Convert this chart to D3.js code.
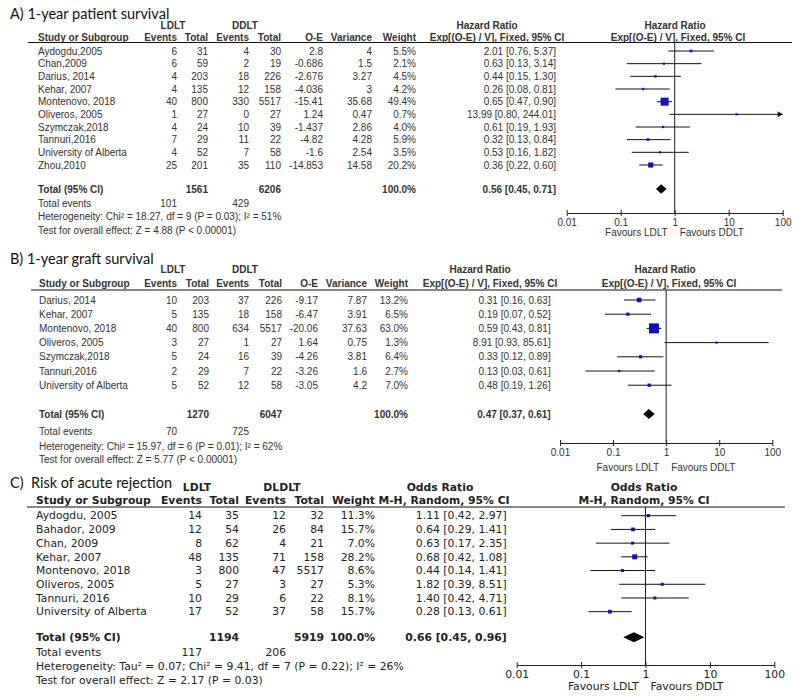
<!DOCTYPE html>
<html>
<head>
<meta charset="utf-8">
<script src="https://cdn.jsdelivr.net/npm/d3@7"></script>
<style>
  body { margin: 0; background: #fff; }
</style>
</head>
<body>
<script>
// ---- A) 1-year patient survival ----
var studiesA = ["Aydogdu,2005", "Chan,2009", "Darius, 2014", "Kehar, 2007", "Montenovo, 2018", "Oliveros, 2005", "Szymczak,2018", "Tannuri,2016", "University of Alberta", "Zhou,2010"];
var ldltEventsA = [6, 6, 4, 4, 40, 1, 4, 7, 4, 25];
var ldltTotalA = [31, 59, 203, 135, 800, 27, 24, 29, 52, 201];
var ddltEventsA = [4, 2, 18, 12, 330, 0, 10, 11, 7, 35];
var ddltTotalA = [30, 19, 226, 158, 5517, 27, 39, 22, 58, 110];
var oeA = ["2.8", "-0.686", "-2.676", "-4.036", "-15.41", "1.24", "-1.437", "-4.82", "-1.6", "-14.853"];
var varianceA = ["4", "1.5", "3.27", "3", "35.68", "0.47", "2.86", "4.28", "2.54", "14.58"];
var weightA = [5.5, 2.1, 4.5, 4.2, 49.4, 0.7, 4.0, 5.9, 3.5, 20.2];
var hrA = [2.01, 0.63, 0.44, 0.26, 0.65, 13.99, 0.61, 0.32, 0.53, 0.36];
var lowA = [0.76, 0.13, 0.15, 0.08, 0.47, 0.80, 0.19, 0.13, 0.16, 0.22];
var highA = [5.37, 3.14, 1.30, 0.81, 0.90, 244.01, 1.93, 0.84, 1.82, 0.60];
var totalA = {ldlt: 1561, ddlt: 6206, evL: 101, evD: 429, est: 0.56, lo: 0.45, hi: 0.71};

// ---- B) 1-year graft survival ----
var studiesB = ["Darius, 2014", "Kehar, 2007", "Montenovo, 2018", "Oliveros, 2005", "Szymczak,2018", "Tannuri,2016", "University of Alberta"];
var ldltEventsB = [10, 5, 40, 3, 5, 2, 5];
var ldltTotalB = [203, 135, 800, 27, 24, 29, 52];
var ddltEventsB = [37, 18, 634, 1, 16, 7, 12];
var ddltTotalB = [226, 158, 5517, 27, 39, 22, 58];
var oeB = ["-9.17", "-6.47", "-20.06", "1.64", "-4.26", "-3.26", "-3.05"];
var varianceB = ["7.87", "3.91", "37.63", "0.75", "3.81", "1.6", "4.2"];
var weightB = [13.2, 6.5, 63.0, 1.3, 6.4, 2.7, 7.0];
var hrB = [0.31, 0.19, 0.59, 8.91, 0.33, 0.13, 0.48];
var lowB = [0.16, 0.07, 0.43, 0.93, 0.12, 0.03, 0.19];
var highB = [0.63, 0.52, 0.81, 85.61, 0.89, 0.61, 1.26];
var totalB = {ldlt: 1270, ddlt: 6047, evL: 70, evD: 725, est: 0.47, lo: 0.37, hi: 0.61};

// ---- C) Risk of acute rejection ----
var studiesC = ["Aydogdu, 2005", "Bahador, 2009", "Chan, 2009", "Kehar, 2007", "Montenovo, 2018", "Oliveros, 2005", "Tannuri, 2016", "University of Alberta"];
var ldltEventsC = [14, 12, 8, 48, 3, 5, 10, 17];
var ldltTotalC = [35, 54, 62, 135, 800, 27, 29, 52];
var dldltEventsC = [12, 26, 4, 71, 47, 3, 6, 37];
var dldltTotalC = [32, 84, 21, 158, 5517, 27, 22, 58];
var weightC = [11.3, 15.7, 7.0, 28.2, 8.6, 5.3, 8.1, 15.7];
var orC = [1.11, 0.64, 0.63, 0.68, 0.44, 1.82, 1.40, 0.28];
var lowC = [0.42, 0.29, 0.17, 0.42, 0.14, 0.39, 0.42, 0.13];
var highC = [2.97, 1.41, 2.35, 1.08, 1.41, 8.51, 4.71, 0.61];
var totalC = {ldlt: 1194, ddlt: 5919, evL: 117, evD: 206, est: 0.66, lo: 0.45, hi: 0.96};

var axisTicks = [0.01, 0.1, 1, 10, 100];

var svg = d3.select("body").append("svg")
  .attr("width", 793)
  .attr("height", 699);

var pct = function(w) { return d3.format(".1f")(w) + "%"; };
var ci = function(e, l, h) { return e.toFixed(2) + " [" + l.toFixed(2) + ", " + h.toFixed(2) + "]"; };

function drawPanel(p) {
  var g = svg.append("g")
    .attr("font-family", p.font)
    .attr("font-size", p.fs)
    .attr("fill", p.color);

  // title
  svg.append("text")
    .attr("x", 10).attr("y", p.titleY).attr("dy", "0.35em")
    .attr("font-family", "Lato, 'Open Sans', sans-serif")
    .attr("font-size", p.titleFs)
    .attr("fill", "#111")
    .attr("xml:space", "preserve")
    .text(p.title);

  var txt = function(x, y, s, anchor, bold) {
    return g.append("text")
      .attr("x", x).attr("y", y).attr("dy", "0.35em")
      .attr("text-anchor", anchor || "start")
      .attr("font-weight", bold ? "bold" : null)
      .text(s);
  };

  var row = d3.scaleLinear().domain([0, p.names.length - 1]).range(p.rows);

  // group headers
  p.groups.forEach(function(d) { txt(d.x, p.groupY, d.t, "middle", true); });
  p.subHeads.forEach(function(d) { txt(d.x, p.headY, d.t, "middle", true); });
  txt(p.nameX, p.headY, "Study or Subgroup", "start", true);

  // names
  p.names.forEach(function(n, i) { txt(p.nameX, row(i), n); });

  // numeric columns
  p.cols.forEach(function(c) {
    if (c.head) txt(c.x, p.headY, c.head, "end", true);
    c.vals.forEach(function(v, i) { txt(c.x, row(i), v, "end"); });
    if (c.tot != null) txt(c.x, p.totalY, c.tot, "end", true);
    if (c.ev != null) txt(c.x, p.evY, c.ev, "end");
  });

  txt(p.nameX, p.totalY, "Total (95% CI)", "start", true);
  txt(p.nameX, p.evY, "Total events");
  txt(p.nameX, p.hetY, p.het);
  txt(p.nameX, p.testY, p.test);

  // header rule
  g.append("line")
    .attr("x1", p.lineX[0]).attr("x2", p.lineX[1])
    .attr("y1", p.lineY).attr("y2", p.lineY)
    .attr("stroke", "#111").attr("stroke-width", 1.2);

  // forest plot
  var x = d3.scaleLog().domain([0.01, 100]).range(p.xr);

  g.append("line")
    .attr("x1", x(1)).attr("x2", x(1))
    .attr("y1", p.lineY).attr("y2", p.axisY)
    .attr("stroke", "#222").attr("stroke-width", 1);

  var ax = g.append("g")
    .attr("transform", "translate(0," + p.axisY + ")")
    .call(d3.axisBottom(x).tickValues(axisTicks)
      .tickFormat(function(d) { return String(d); })
      .tickSize(3).tickSizeOuter(0).tickPadding(p.tickPad));
  ax.attr("font-family", p.font).attr("font-size", p.fs);
  ax.select(".domain").attr("stroke", "#222");
  ax.selectAll(".tick line").attr("y1", -3).attr("y2", 3).attr("stroke", "#222");
  ax.selectAll(".tick text").attr("fill", p.color);

  txt(x(1) - 7, p.favY, "Favours LDLT", "end");
  txt(x(1) + 5, p.favY, "Favours DDLT", "start");

  p.est.forEach(function(e, i) {
    var y = row(i);
    var hi = Math.min(p.hi[i], 100);
    g.append("line")
      .attr("x1", x(p.lo[i])).attr("x2", x(hi))
      .attr("y1", y).attr("y2", y)
      .attr("stroke", "#111").attr("stroke-width", 1);
    if (p.hi[i] > 100) {
      g.append("path")
        .attr("d", "M" + (x(100) - 5) + "," + (y - 3) + "L" + x(100) + "," + y + "L" + (x(100) - 5) + "," + (y + 3) + "Z")
        .attr("fill", "#111");
    }
    var s = Math.max(p.minSq, p.k * Math.sqrt(p.w[i]));
    g.append("rect")
      .attr("x", x(e) - s / 2).attr("y", y - s / 2)
      .attr("width", s).attr("height", s)
      .attr("fill", "#1010c0");
  });

  var t = p.total;
  g.append("path")
    .attr("d", "M" + x(t.lo) + "," + p.totalY + "L" + x(t.est) + "," + (p.totalY - p.dh) +
      "L" + x(t.hi) + "," + p.totalY + "L" + x(t.est) + "," + (p.totalY + p.dh) + "Z")
    .attr("fill", "#000");
}

var sansAB = "'Liberation Sans', Arial, sans-serif";
var sansC = "'DejaVu Sans', Verdana, sans-serif";

drawPanel({
  title: "A) 1-year patient survival", titleY: 14, titleFs: 14.5,
  font: sansAB, fs: 10, color: "#333",
  groupY: 25, headY: 37.5, lineY: 42.5, lineX: [28, 792],
  rows: [51, 165], totalY: 189, evY: 203, hetY: 216.7, testY: 230,
  nameX: 38, names: studiesA,
  groups: [{x: 173, t: "LDLT"}, {x: 245, t: "DDLT"}, {x: 487, t: "Hazard Ratio"}, {x: 675, t: "Hazard Ratio"}],
  subHeads: [{x: 497, t: "Exp[(O-E) / V], Fixed, 95% CI"}, {x: 678, t: "Exp[(O-E) / V], Fixed, 95% CI"}],
  cols: [
    {x: 177, head: "Events", vals: ldltEventsA, ev: totalA.evL},
    {x: 208, head: "Total", vals: ldltTotalA, tot: totalA.ldlt},
    {x: 249, head: "Events", vals: ddltEventsA, ev: totalA.evD},
    {x: 281, head: "Total", vals: ddltTotalA, tot: totalA.ddlt},
    {x: 323, head: "O-E", vals: oeA},
    {x: 372, head: "Variance", vals: varianceA},
    {x: 416, head: "Weight", vals: weightA.map(pct), tot: "100.0%"},
    {x: 556, vals: hrA.map(function(e, i) { return ci(e, lowA[i], highA[i]); }), tot: ci(totalA.est, totalA.lo, totalA.hi)}
  ],
  het: "Heterogeneity: Chi\u00b2 = 18.27, df = 9 (P = 0.03); I\u00b2 = 51%",
  test: "Test for overall effect: Z = 4.88 (P < 0.00001)",
  xr: [566.7, 782.7], axisY: 213, tickPad: 2.5, favY: 232,
  est: hrA, lo: lowA, hi: highA, w: weightA, k: 1.14, minSq: 2.2, dh: 4.8,
  total: totalA
});

drawPanel({
  title: "B) 1-year graft survival", titleY: 259, titleFs: 14.5,
  font: sansAB, fs: 10, color: "#333",
  groupY: 269.5, headY: 283.3, lineY: 290, lineX: [31, 782],
  rows: [300, 385.2], totalY: 414, evY: 431.5, hetY: 446, testY: 459.5,
  nameX: 39, names: studiesB,
  groups: [{x: 173, t: "LDLT"}, {x: 245, t: "DDLT"}, {x: 480, t: "Hazard Ratio"}, {x: 665, t: "Hazard Ratio"}],
  subHeads: [{x: 490, t: "Exp[(O-E) / V], Fixed, 95% CI"}, {x: 669, t: "Exp[(O-E) / V], Fixed, 95% CI"}],
  cols: [
    {x: 177, head: "Events", vals: ldltEventsB, ev: totalB.evL},
    {x: 209, head: "Total", vals: ldltTotalB, tot: totalB.ldlt},
    {x: 249, head: "Events", vals: ddltEventsB, ev: totalB.evD},
    {x: 282, head: "Total", vals: ddltTotalB, tot: totalB.ddlt},
    {x: 318, head: "O-E", vals: oeB},
    {x: 367, head: "Variance", vals: varianceB},
    {x: 408, head: "Weight", vals: weightB.map(pct), tot: "100.0%"},
    {x: 550.7, vals: hrB.map(function(e, i) { return ci(e, lowB[i], highB[i]); }), tot: ci(totalB.est, totalB.lo, totalB.hi)}
  ],
  het: "Heterogeneity: Chi\u00b2 = 15.97, df = 6 (P = 0.01); I\u00b2 = 62%",
  test: "Test for overall effect: Z = 5.77 (P < 0.00001)",
  xr: [560, 772.3], axisY: 443, tickPad: 2.5, favY: 467,
  est: hrB, lo: lowB, hi: highB, w: weightB, k: 1.26, minSq: 2.2, dh: 5,
  total: totalB
});

drawPanel({
  title: "C)  Risk of acute rejection", titleY: 483, titleFs: 14.5,
  font: sansC, fs: 10.8, color: "#222",
  groupY: 487, headY: 500.7, lineY: 507, lineX: [27, 785],
  rows: [515.7, 611.7], totalY: 637.3, evY: 652.7, hetY: 666, testY: 680,
  nameX: 36, names: studiesC,
  groups: [{x: 197, t: "LDLT"}, {x: 282, t: "DLDLT"}, {x: 440, t: "Odds Ratio"}, {x: 644, t: "Odds Ratio"}],
  subHeads: [{x: 444, t: "M-H, Random, 95% CI"}, {x: 644, t: "M-H, Random, 95% CI"}],
  cols: [
    {x: 202, head: "Events", vals: ldltEventsC, ev: totalC.evL},
    {x: 239, head: "Total", vals: ldltTotalC, tot: totalC.ldlt},
    {x: 286, head: "Events", vals: dldltEventsC, ev: totalC.evD},
    {x: 324, head: "Total", vals: dldltTotalC, tot: totalC.ddlt},
    {x: 375, head: "Weight", vals: weightC.map(pct), tot: "100.0%"},
    {x: 506.7, vals: orC.map(function(e, i) { return ci(e, lowC[i], highC[i]); }), tot: ci(totalC.est, totalC.lo, totalC.hi)}
  ],
  het: "Heterogeneity: Tau\u00b2 = 0.07; Chi\u00b2 = 9.41, df = 7 (P = 0.22); I\u00b2 = 26%",
  test: "Test for overall effect: Z = 2.17 (P = 0.03)",
  xr: [516.7, 774.3], axisY: 665, tickPad: 2.5, favY: 686,
  est: orC, lo: lowC, hi: highC, w: weightC, k: 0.94, minSq: 3, dh: 5,
  total: totalC
});
</script>
</body>
</html>
